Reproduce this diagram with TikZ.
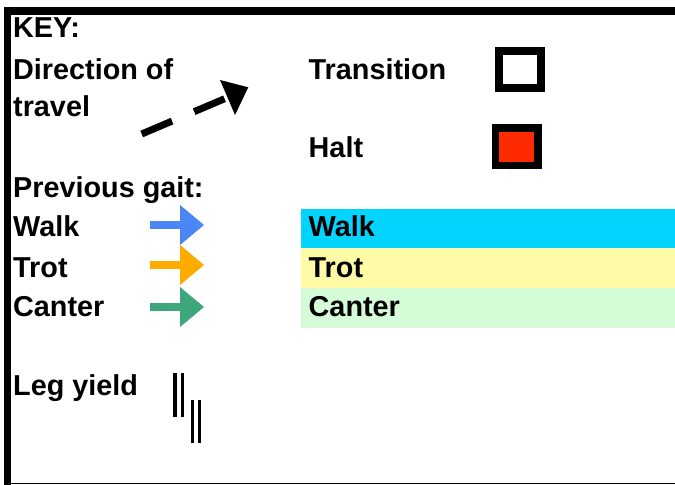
\documentclass[tikz,border=0pt]{standalone}
\usepackage{fontspec}
\setmainfont{Liberation Sans}
\definecolor{walkbar}{HTML}{00D4FF}
\definecolor{trotbar}{HTML}{FFFAA5}
\definecolor{canterbar}{HTML}{D4FCD6}
\definecolor{walkarrow}{HTML}{4A86F5}
\definecolor{trotarrow}{HTML}{FFAB00}
\definecolor{canterarrow}{HTML}{3DA67A}
\definecolor{haltred}{HTML}{FF2A00}
\begin{document}
\begin{tikzpicture}[x=1bp,y=-1bp,
  lbl/.style={anchor=base west,inner sep=0pt,font=\bfseries\fontsize{28.9}{34}\selectfont},
  yieldline/.style={line width=3.3bp}]
\useasboundingbox (0,0) rectangle (675,485);
% frame
\fill (4,7) rectangle (675,15);
\fill (4,7) rectangle (11,485);
\fill (9,482.7) rectangle (675,484.3);
% left labels
\node[lbl] (key) at (13,38) {KEY:};
\node[lbl] (dir1) at (13,79.5) {Direction of};
\node[lbl] (dir2) at (13,117) {travel};
\node[lbl] (prev) at (13,198) {Previous gait:};
\node[lbl] (walk) at (13,237) {Walk};
\node[lbl] (trot) at (13,277) {Trot};
\node[lbl] (canter) at (13,316.5) {Canter};
\node[lbl] (leg) at (13,395) {Leg yield};
% direction arrow
\coordinate (ds) at (141.7,134);
\coordinate (de) at (227.5,97.5);
\draw[line width=7bp, dash pattern=on 33bp off 24bp] (ds) -- (de);
\fill (220,80) -- (248.3,87.3) -- (235,115) -- cycle;
% middle labels
\node[lbl] (trans) at (308.5,79.5) {Transition};
\node[lbl] (halt) at (308.5,158) {Halt};
% boxes
\draw[line width=8bp, fill=white] (498.5,51) rectangle (540.7,88.3);
\draw[line width=7.5bp, fill=haltred] (495.5,127.8) rectangle (537.8,165.5);
% gait arrows
\fill[walkarrow] (150,220.7) rectangle (181,229.3);
\fill[walkarrow] (180,205) -- (204,225) -- (180,245) -- cycle;
\fill[trotarrow] (150,260.7) rectangle (181,269.3);
\fill[trotarrow] (180,245) -- (204,265) -- (180,285) -- cycle;
\fill[canterarrow] (150,302.7) rectangle (181,311.3);
\fill[canterarrow] (180,287) -- (204,307) -- (180,327) -- cycle;
% colour bars
\fill[walkbar] (301,209) rectangle (675,248);
\fill[trotbar] (301,248) rectangle (675,288);
\fill[canterbar] (301,288) rectangle (675,328);
\node[lbl] (walkb) at (308.5,237) {Walk};
\node[lbl] (trotb) at (308.5,277) {Trot};
\node[lbl] (canterb) at (308.5,316.5) {Canter};
% leg yield lines
\draw[yieldline] (175,373.3) -- (175,416.7);
\draw[yieldline] (182.3,373.3) -- (182.3,416.7);
\draw[yieldline] (192.3,400) -- (192.3,443.3);
\draw[yieldline] (199.7,400) -- (199.7,443.3);
\end{tikzpicture}
\end{document}
